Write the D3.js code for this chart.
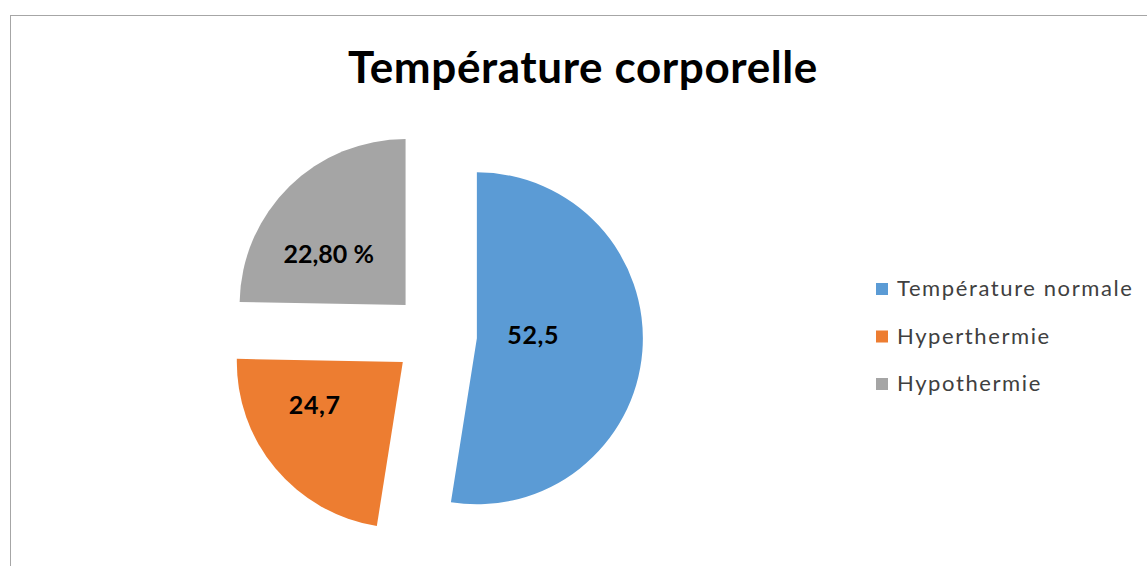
<!DOCTYPE html>
<html>
<head>
<meta charset="utf-8">
<script src="https://cdn.jsdelivr.net/npm/d3@7"></script>
<style>
  body { margin: 0; background: #fff; }
  svg { display: block; }
</style>
</head>
<body>
<div id="chart"></div>
<script>
// chart data
const categories = ["Température normale", "Hyperthermie", "Hypothermie"];
// slice sizes as drawn (the orange and grey slices carry each other's label in the original)
const sliceValues = [52.5, 22.8, 24.7];
const sliceLabels = ["52,5", "24,7", "22,80\u202f%"];
const sliceColors = ["#5b9bd5", "#ed7d31", "#a5a5a5"];
const chartTitle = "Température corporelle";

function drawPie(parentElem) {
    let width = 1147, height = 566;
    let radius = 166,
        explode = 42,
        cx = 435, cy = 335;

    let svg = d3.select(parentElem).append("svg")
        .attr("width", width)
        .attr("height", height);

    // outer chart border, only the top and left edges are visible
    svg.append("rect")
        .attr("x", 10.5).attr("y", 15.5)
        .attr("width", width).attr("height", height)
        .attr("fill", "none")
        .attr("stroke", "#a6a6a6")
        .attr("stroke-width", 1);

    svg.append("text")
        .attr("x", 583)
        .attr("y", 83)
        .attr("text-anchor", "middle")
        .style("font-family", "Lato, 'Open Sans', sans-serif")
        .style("font-weight", "bold")
        .style("font-size", "44px")
        .style("letter-spacing", "0.6px")
        .attr("fill", "#000")
        .text(chartTitle);

    let pie = d3.pie().sort(null).value(d => d)(sliceValues);
    let arc = d3.arc().innerRadius(0).outerRadius(radius);

    // how far the label sits from the slice tip, and a small angular nudge (degrees)
    let labelDist = [0.34, 0.59, 0.555];
    let labelTurn = [-8, 14, -12];

    let pieG = svg.append("g").attr("transform", `translate(${cx}, ${cy})`);

    let slices = pieG.selectAll(".slice")
        .data(pie)
        .enter().append("g")
        .attr("class", "slice")
        .attr("transform", function(d) {
            let mid = (d.startAngle + d.endAngle) / 2;
            return `translate(${explode * Math.sin(mid)}, ${-explode * Math.cos(mid)})`;
        });

    slices.append("path")
        .attr("d", arc)
        .attr("fill", (d, i) => sliceColors[i]);

    slices.append("text")
        .attr("transform", function(d, i) {
            let a = (d.startAngle + d.endAngle) / 2 + labelTurn[i] * Math.PI / 180;
            let r = labelDist[i] * radius;
            return `translate(${r * Math.sin(a)}, ${-r * Math.cos(a)})`;
        })
        .attr("text-anchor", "middle")
        .attr("dy", "0.36em")
        .style("font-family", "Lato, 'Open Sans', sans-serif")
        .style("font-weight", "bold")
        .style("font-size", "25px")
        .style("letter-spacing", "0.6px")
        .attr("fill", "#000")
        .text((d, i) => sliceLabels[i]);

    // legend
    let legend = svg.append("g").attr("transform", "translate(876, 289)");
    let rowStep = 47.5;
    let rows = legend.selectAll(".row")
        .data(categories)
        .enter().append("g")
        .attr("class", "row")
        .attr("transform", (d, i) => `translate(0, ${i * rowStep})`);

    rows.append("rect")
        .attr("x", 0).attr("y", -6)
        .attr("width", 12).attr("height", 12)
        .attr("fill", (d, i) => sliceColors[i]);

    rows.append("text")
        .attr("x", 21)
        .attr("dy", "0.34em")
        .style("font-family", "Lato, 'Open Sans', sans-serif")
        .style("font-size", "22px")
        .style("letter-spacing", "1.6px")
        .attr("fill", "#404040")
        .text(d => d);
}

drawPie("#chart");
</script>
</body>
</html>
